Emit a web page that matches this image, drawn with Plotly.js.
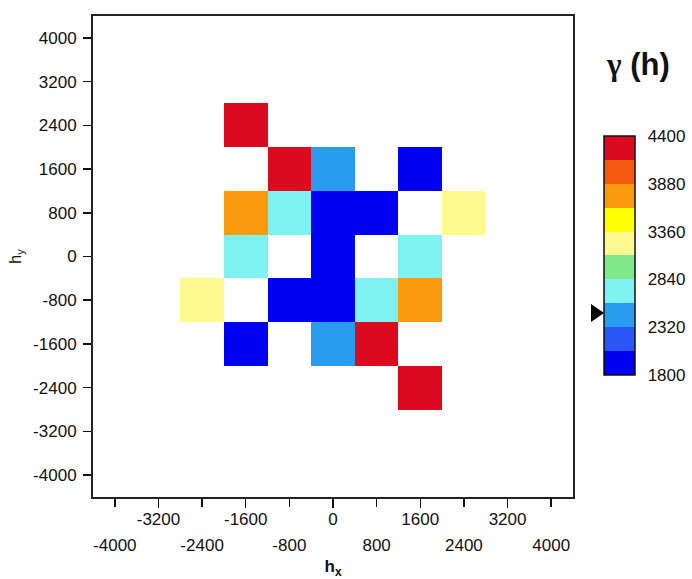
<!DOCTYPE html>
<html>
<head>
<meta charset="utf-8">
<script src="https://cdn.plot.ly/plotly-3.0.1.min.js"></script>
<style>html,body{margin:0;padding:0;background:#fff;}#chart{width:692px;height:579px;}</style>
</head>
<body>
<div id="chart"></div>
<script>
// lag centres (h_x and h_y), step 800
var hx = [-4000, -3200, -2400, -1600, -800, 0, 800, 1600, 2400, 3200, 4000];
var hy = [-4000, -3200, -2400, -1600, -800, 0, 800, 1600, 2400, 3200, 4000];
// semivariogram values gamma(h); null = no pairs (rows from hy=-4000 upward)
var gammaRows = [
  [null, null, null, null, null, null, null, null, null, null, null], // -4000
  [null, null, null, null, null, null, null, null, null, null, null], // -3200
  [null, null, null, null, null, null, null, 4300, null, null, null], // -2400
  [null, null, null, 1900, null, 2450, 4300, null, null, null, null], // -1600
  [null, null, 3230, null, 1900, 1900, 2700, 3750, null, null, null], // -800
  [null, null, null, 2700, null, 1850, null, 2700, null, null, null], // 0
  [null, null, null, 3750, 2700, 1900, 1900, null, 3230, null, null], // 800
  [null, null, null, null, 4300, 2450, null, 1900, null, null, null], // 1600
  [null, null, null, 4300, null, null, null, null, null, null, null], // 2400
  [null, null, null, null, null, null, null, null, null, null, null], // 3200
  [null, null, null, null, null, null, null, null, null, null, null]  // 4000
];
var colorbarTicks = [1800, 2320, 2840, 3360, 3880, 4400];
var upperRowTicks = [-3200, -1600, 0, 1600, 3200];
var lowerRowTicks = [-4000, -2400, -800, 800, 2400, 4000];
var yTicks = [-4000, -3200, -2400, -1600, -800, 0, 800, 1600, 2400, 3200, 4000];

var binColors = ['#0000f2', '#2a56f5', '#2a9cf0', '#7ef2f0', '#7ee88a',
                 '#fffa90', '#ffff00', '#fb9a0e', '#f55a10', '#dc0a1e'];
var colorscale = [];
for (var i = 0; i < binColors.length; i++) {
  colorscale.push([i / binColors.length, binColors[i]]);
  colorscale.push([(i + 1) / binColors.length, binColors[i]]);
}

var font = {family: 'Liberation Sans, Arial, sans-serif', size: 17, color: '#111'};

var heat = {
  type: 'heatmap',
  x: hx, y: hy, z: gammaRows,
  zmin: 1800, zmax: 4400,
  colorscale: colorscale,
  xgap: 0, ygap: 0,
  hoverongaps: false,
  colorbar: {
    x: 1.0646, xanchor: 'left', xpad: 0,
    y: 0.502, yanchor: 'middle', ypad: 0,
    len: 239, lenmode: 'pixels',
    thickness: 31, thicknessmode: 'pixels',
    outlinewidth: 1.5, outlinecolor: '#111',
    tickvals: colorbarTicks, ticktext: colorbarTicks.map(String),
    ticks: 'outside', ticklen: 9, tickcolor: 'rgba(0,0,0,0)',
    tickfont: font
  }
};
var dummy = {type: 'scatter', x: [], y: [], xaxis: 'x2', yaxis: 'y', showlegend: false, hoverinfo: 'skip'};

var layout = {
  width: 692, height: 579,
  margin: {l: 93, r: 119, t: 16, b: 82, autoexpand: false},
  paper_bgcolor: '#fff', plot_bgcolor: '#fff',
  font: font,
  showlegend: false,
  xaxis: {
    range: [-4400, 4400], tickvals: upperRowTicks, ticktext: upperRowTicks.map(String),
    ticks: 'outside', ticklen: 9, tickwidth: 1.5, tickcolor: '#111',
    ticklabelstandoff: -3,
    showline: true, linecolor: '#222', linewidth: 2, mirror: true,
    showgrid: false, zeroline: false, tickfont: font,
    title: {text: '<b>h<sub>x</sub></b>', font: {family: font.family, size: 17, color: '#111'}, standoff: 32}
  },
  xaxis2: {
    overlaying: 'x', anchor: 'y', side: 'bottom', matches: 'x',
    range: [-4400, 4400], tickvals: lowerRowTicks, ticktext: lowerRowTicks.map(String),
    ticks: 'outside', ticklen: 9, tickwidth: 1.5, tickcolor: '#111',
    showline: false, showgrid: false, zeroline: false,
    ticklabelstandoff: 24, tickfont: font
  },
  yaxis: {
    range: [-4400, 4400], tickvals: yTicks, ticktext: yTicks.map(String),
    ticks: 'outside', ticklen: 8, tickwidth: 1.5, tickcolor: '#111',
    ticklabelstandoff: 3,
    showline: true, linecolor: '#222', linewidth: 2, mirror: true,
    showgrid: false, zeroline: false, tickfont: font,
    title: {text: 'h<sub>y</sub>', font: {family: font.family, size: 16, color: '#111'}, standoff: 8}
  },
  annotations: [{
    xref: 'paper', yref: 'paper', x: 1.136, y: 1 - (65 - 16) / 481,
    xanchor: 'center', yanchor: 'middle', showarrow: false,
    text: '<b><span style="font-family:Liberation Serif, serif">\u03b3</span> (h)</b>',
    font: {family: font.family, size: 31, color: '#111'}
  }],
  shapes: [{
    type: 'path', xref: 'paper', yref: 'paper',
    path: 'M 1.0375 ' + (1 - (304 - 16) / 481) + ' L 1.0646 ' + (1 - (313 - 16) / 481) + ' L 1.0375 ' + (1 - (322 - 16) / 481) + ' Z',
    fillcolor: '#000', line: {width: 0}
  }]
};

Plotly.newPlot('chart', [heat, dummy], layout, {displayModeBar: false, staticPlot: true});
</script>
</body>
</html>
